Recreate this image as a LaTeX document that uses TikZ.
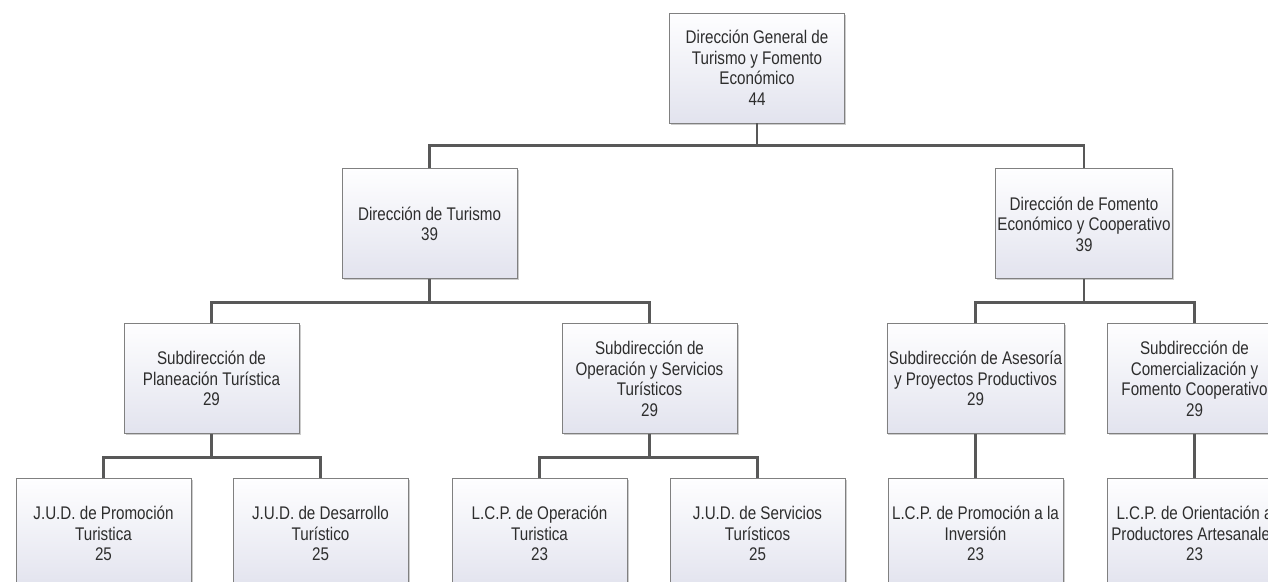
\documentclass[tikz,border=0pt]{standalone}
\usepackage{fontspec}
\setmainfont{Liberation Sans}[FakeStretch=0.83]
\usepackage{xcolor}
\usetikzlibrary{positioning, shadows}

\definecolor{boxtop}{RGB}{254,254,255}
\definecolor{boxbottom}{RGB}{226,227,238}
\definecolor{boxline}{RGB}{128,128,128}
\definecolor{linkline}{RGB}{88,88,88}
\definecolor{boxtext}{RGB}{45,45,45}

\tikzset{
	unit/.style={draw=boxline, line width=0.9pt, top color=boxtop, bottom color=boxbottom,
		minimum width=175pt, minimum height=110pt, inner sep=2pt, align=center, text=boxtext,
		font=\fontsize{18.3}{20.5}\selectfont,
		drop shadow={shadow xshift=1.5pt, shadow yshift=-1.5pt, fill=black!20, opacity=1}},
	link/.style={draw=linkline, line width=2.6pt}
}

\begin{document}
\begin{tikzpicture}[node distance=44pt]
	\clip (0,0) rectangle (1268pt,-581pt);
	\fill[white] (0,0) rectangle (1268pt,-581pt);
	\node[unit] (dg) at (757pt,-68pt) {Dirección General de\\Turismo y Fomento\\Económico\\44};
	\node[unit, below=45pt of dg, xshift=-327.5pt] (dtur) {Dirección de Turismo\\39};
	\node[unit, below=45pt of dg, xshift=327pt] (dfom) {Dirección de Fomento\\Económico y Cooperativo\\39};
	\node[unit, below=of dtur, xshift=-218pt] (splan) {Subdirección de\\Planeación Turística\\29};
	\node[unit, below=of dtur, xshift=220pt] (soper) {Subdirección de\\Operación y Servicios\\Turísticos\\29};
	\node[unit, below=of dfom, xshift=-108.5pt] (sases) {Subdirección de Asesoría\\y Proyectos Productivos\\29};
	\node[unit, below=of dfom, xshift=110.5pt] (scom) {Subdirección de\\Comercialización y\\Fomento Cooperativo\\29};
	\node[unit, below=of splan, xshift=-108pt] (jprom) {J.U.D. de Promoción\\Turistica\\25};
	\node[unit, below=of splan, xshift=109pt] (jdes) {J.U.D. de Desarrollo\\Turístico\\25};
	\node[unit, below=of soper, xshift=-110pt] (lop) {L.C.P. de Operación\\Turistica\\23};
	\node[unit, below=of soper, xshift=108pt] (jserv) {J.U.D. de Servicios\\Turísticos\\25};
	\node[unit, below=of sases] (linv) {L.C.P. de Promoción a la\\Inversión\\23};
	\node[unit, below=of scom] (lort) {L.C.P. de Orientación a\\Productores Artesanales\\23};
	\draw[link] (dtur.north)--++(90:23pt) coordinate (aux) -| (dg.south);
	\draw[link] (dfom.north)--++(90:23pt) coordinate (aux) -| (dg.south);
	\draw[link] (splan.north)--++(90:21pt) coordinate (aux) -| (dtur.south);
	\draw[link] (soper.north)--++(90:21pt) coordinate (aux) -| (dtur.south);
	\draw[link] (sases.north)--++(90:21pt) coordinate (aux) -| (dfom.south);
	\draw[link] (scom.north)--++(90:21pt) coordinate (aux) -| (dfom.south);
	\draw[link] (jprom.north)--++(90:21pt) coordinate (aux) -| (splan.south);
	\draw[link] (jdes.north)--++(90:21pt) coordinate (aux) -| (splan.south);
	\draw[link] (lop.north)--++(90:21pt) coordinate (aux) -| (soper.south);
	\draw[link] (jserv.north)--++(90:21pt) coordinate (aux) -| (soper.south);
	\draw[link] (sases.south)--(linv.north);
	\draw[link] (scom.south)--(lort.north);
\end{tikzpicture}
\end{document}
